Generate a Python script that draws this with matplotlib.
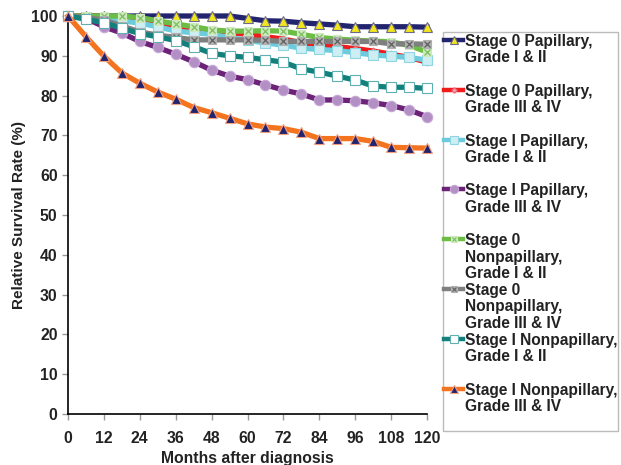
import numpy as np
import matplotlib
matplotlib.use("Agg")
import matplotlib.pyplot as plt
from matplotlib.lines import Line2D
from matplotlib.patches import Rectangle

plt.rcParams['font.family'] = ['Liberation Sans', 'DejaVu Sans']
plt.rcParams['font.weight'] = 'bold'

months = list(range(0, 121, 6))

labels = [
    "Stage 0 Papillary,\nGrade I & II",
    "Stage 0 Papillary,\nGrade III & IV",
    "Stage I Papillary,\nGrade I & II",
    "Stage I Papillary,\nGrade III & IV",
    "Stage 0\nNonpapillary,\nGrade I & II",
    "Stage 0\nNonpapillary,\nGrade III & IV",
    "Stage I Nonpapillary,\nGrade I & II",
    "Stage I Nonpapillary,\nGrade III & IV",
]

s0_pap_low = [100, 100, 100, 100, 100, 100, 100, 100, 100, 100, 99.4,
              98.8, 98.7, 98.3, 98.0, 97.7, 97.3, 97.3, 97.3, 97.3, 97.2]
s0_pap_high = [100, 100, 99.8, 99.5, 99.0, 98.3, 97.5, 96.8, 96.2, 95.8, 95.4,
               94.8, 94.2, 93.3, 92.8, 92.3, 91.8, 91.2, 90.4, 89.6, 88.4]
s1_pap_low = [100, 99.8, 99.3, 98.8, 98.2, 97.3, 96.2, 95.8, 95.4, 94.6, 93.9,
              93.2, 92.7, 91.9, 91.6, 91.3, 90.8, 90.2, 89.9, 89.6, 88.9]
s1_pap_high = [100, 99.4, 97.3, 95.7, 93.6, 92.1, 90.4, 88.5, 86.4, 84.9, 84.0,
               82.7, 81.4, 80.4, 78.9, 78.9, 78.7, 78.2, 77.5, 76.4, 74.7]
s0_non_low = [100, 100, 100, 100, 99.6, 98.8, 98.0, 97.3, 96.5, 96.2, 96.2,
              96.3, 96.2, 95.4, 94.6, 94.2, 93.9, 93.7, 93.5, 92.6, 91.0]
s0_non_high = [100, 99.6, 99.0, 97.5, 96.0, 95.2, 94.6, 94.0, 94.0, 94.0, 94.0,
               93.9, 93.6, 93.6, 93.6, 93.6, 93.6, 93.6, 93.0, 93.0, 92.9]
s1_non_low = [100, 99.2, 98.3, 96.9, 95.6, 94.8, 93.8, 92.3, 90.6, 90.0, 89.6,
              89.0, 88.4, 86.7, 85.9, 84.9, 83.9, 82.4, 82.1, 82.1, 81.8]
s1_non_high = [100, 94.8, 89.9, 85.7, 83.1, 80.9, 79.1, 77.0, 75.7, 74.3, 72.9,
               72.1, 71.7, 70.8, 69.2, 69.2, 69.2, 68.5, 67.0, 66.9, 66.8]

series = [s0_pap_low, s0_pap_high, s1_pap_low, s1_pap_high,
          s0_non_low, s0_non_high, s1_non_low, s1_non_high]

# line colour, marker, marker face, marker edge, marker size
styles = [
    dict(color="#23246e", marker="^", mfc="#f2e51e", mec="#6a6a8a", ms=7),
    dict(color="#f01c1c", marker="D", mfc="#f4a0b0", mec="#f06070", ms=3.5),
    dict(color="#6ccbdc", marker="s", mfc="#cdeef3", mec="#8fd6e2", ms=7),
    dict(color="#6c2277", marker="o", mfc="#b38fc6", mec="#c6a8d6", ms=7.5),
    dict(color="#6cbd45", marker="s", mfc="#cfe9c0", mec="#cfe9c0", ms=6),
    dict(color="#7f7f7f", marker="s", mfc="#b0b0b0", mec="#b0b0b0", ms=6),
    dict(color="#14807c", marker="s", mfc="white", mec="#5fb0b0", ms=7),
    dict(color="#f3731f", marker="^", mfc="#23246e", mec="#f3a080", ms=7.5),
]
overlay = {4: "#7dbf5e", 5: "#606060"}  # x drawn inside the square markers

W, H = 621, 465
fig = plt.figure(figsize=(W / 100, H / 100), dpi=100)
ax = fig.add_axes([68 / W, 1 - 414 / H, (427 - 68) / W, (414 - 16) / H])

for i, (vals, st) in enumerate(zip(series, styles)):
    ax.plot(months, vals, color=st["color"], lw=3.8, marker=st["marker"],
            ms=st["ms"], mfc=st["mfc"], mec=st["mec"], mew=0.8,
            clip_on=False, zorder=3 + i)
    if i in overlay:
        ax.plot(months, vals, ls="none", marker="x", ms=4, mec=overlay[i],
                mew=0.9, clip_on=False, zorder=3 + i)

ax.set_xlim(0, 120)
ax.set_ylim(0, 100)
ax.set_xticks(months[::2])
ax.set_yticks(range(0, 101, 10))
for s in ["top", "right"]:
    ax.spines[s].set_visible(False)
for s in ["left", "bottom"]:
    ax.spines[s].set_color("black")
    ax.spines[s].set_linewidth(1.2)
ax.tick_params(axis="both", colors="#999999", labelcolor="#222222",
               labelsize=11.3, length=4, width=1)
ax.tick_params(axis="x", pad=8)
for t in ax.get_xticklabels() + ax.get_yticklabels():
    t.set_fontweight("bold")
ax.set_xlabel("Months after diagnosis", fontsize=11.3, fontweight="bold",
              color="#222222", labelpad=4)
ax.set_ylabel("Relative Survival Rate (%)", fontsize=11, fontweight="bold",
              color="#222222", labelpad=4)

# Excel-style legend with fixed slot height
fig.add_artist(Rectangle((443 / W, 1 - 431 / H), (618 - 443) / W, (431 - 32) / H,
                         transform=fig.transFigure, fill=False,
                         edgecolor="#bbbbbb", lw=1))
for i, (lab, st) in enumerate(zip(labels, styles)):
    yc = 40 + 49.8 * i
    fig.add_artist(Line2D([444 / W, 463 / W], [1 - yc / H, 1 - yc / H],
                          transform=fig.transFigure, color=st["color"], lw=3.2))
    fig.add_artist(Line2D([453.5 / W], [1 - yc / H], transform=fig.transFigure,
                          marker=st["marker"], ms=st["ms"] * 0.8, mfc=st["mfc"],
                          mec=st["mec"], mew=0.8, ls="none"))
    if i in overlay:
        fig.add_artist(Line2D([453.5 / W], [1 - yc / H], transform=fig.transFigure,
                              marker="x", ms=3.5, mec=overlay[i], mew=0.8, ls="none"))
    fig.text(465 / W, 1 - (yc - 6) / H, lab, fontsize=11.2, fontweight="bold",
             color="#222222", va="top", ha="left", linespacing=1.12)

fig.savefig("out.png", dpi=100)
